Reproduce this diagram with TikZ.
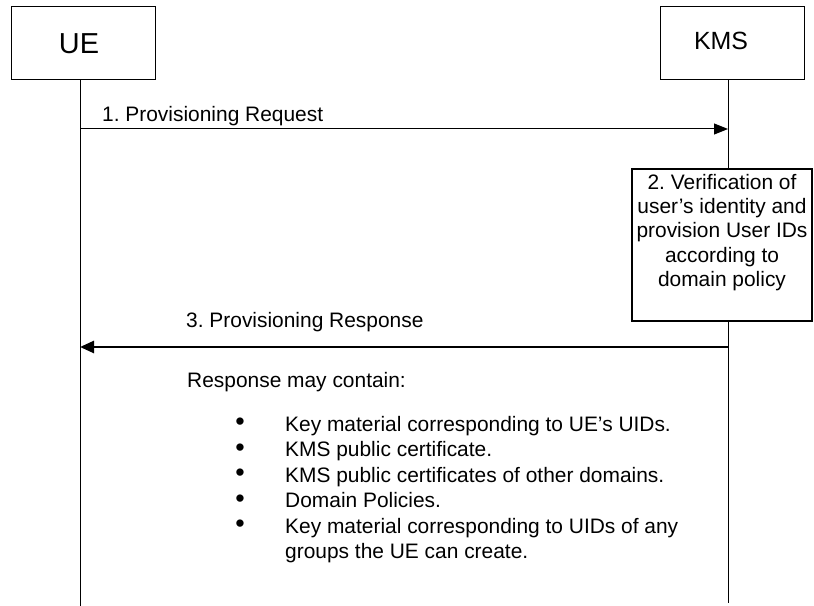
\documentclass[tikz,border=0pt]{standalone}
\usepackage{fontspec}
\setmainfont{Liberation Sans}
\usetikzlibrary{arrows.meta}
\frenchspacing
\begin{document}
\begin{tikzpicture}[x=1bp,y=-1bp,
  lbl/.style={inner sep=0,font=\fontsize{21}{24}\selectfont},
  bul/.style={inner sep=0,font=\fontsize{27}{30}\selectfont,anchor=base},
  entbox/.style={draw,line width=1bp,minimum height=73bp,inner sep=0},
  life/.style={line width=1bp},
  msgthin/.style={line width=1bp,-{Triangle[length=14bp,width=11bp]}},
  msgthick/.style={line width=2.5bp,-{Triangle[length=14bp,width=12bp]}},
  actbox/.style={draw,line width=1.5bp,fill=white,minimum width=180bp,minimum height=152bp,inner sep=0}]
\useasboundingbox (0,0) rectangle (814,606);
% lifelines
\coordinate (ueTop) at (80,80);
\coordinate (ueBot) at (80,606);
\coordinate (kmsTop) at (728,80);
\coordinate (kmsBot) at (728,603);
\draw[life] (ueTop) -- (ueBot);
\draw[life] (kmsTop) -- (kmsBot);
% entity boxes
\node[entbox,minimum width=143bp] (ue) at (83.5,43.5) {};
\node[entbox,minimum width=144bp] (kms) at (732,43.5) {};
\node[inner sep=0,font=\fontsize{29}{32}\selectfont,anchor=base] (ueT) at (79,54) {UE};
\node[inner sep=0,font=\fontsize{25}{28}\selectfont,anchor=base] (kmsT) at (721,50) {KMS};
% message 1
\coordinate (m1s) at (80,129);
\coordinate (m1e) at (728,129);
\draw[msgthin] (m1s) -- (m1e);
\node[lbl,anchor=base west] (m1l) at (102,122) {1. Provisioning Request};
% action box
\node[actbox] (act) at (722,245) {};
\node[lbl,anchor=base] (a1) at (722,190) {2. Verification of};
\node[lbl,anchor=base] (a2) at (722,214) {user’s identity and};
\node[lbl,anchor=base] (a3) at (722,238) {provision User IDs};
\node[lbl,anchor=base] (a4) at (722,262) {according to};
\node[lbl,anchor=base] (a5) at (722,286) {domain policy};
% message 3
\coordinate (m3s) at (728,347);
\coordinate (m3e) at (80,347);
\draw[msgthick] (m3s) -- (m3e);
\node[lbl,anchor=base west] (m3l) at (186,327) {3. Provisioning Response};
\node[lbl,anchor=base west] (r0) at (187,387) {Response may contain:};
% bullets
\node[bul] (b1) at (240,430.5) {•};
\node[bul] (b2) at (240,456) {•};
\node[bul] (b3) at (240,481.5) {•};
\node[bul] (b4) at (240,507) {•};
\node[bul] (b5) at (240,532.5) {•};
\node[lbl,anchor=base west] (t1) at (285,431) {Key material corresponding to UE’s UIDs.};
\node[lbl,anchor=base west] (t2) at (285,456.5) {KMS public certificate.};
\node[lbl,anchor=base west] (t3) at (285,482) {KMS public certificates of other domains.};
\node[lbl,anchor=base west] (t4) at (285,507.5) {Domain Policies.};
\node[lbl,anchor=base west] (t5) at (285,533) {Key material corresponding to UIDs of any};
\node[lbl,anchor=base west] (t6) at (285,558.5) {groups the UE can create.};
\end{tikzpicture}
\end{document}
